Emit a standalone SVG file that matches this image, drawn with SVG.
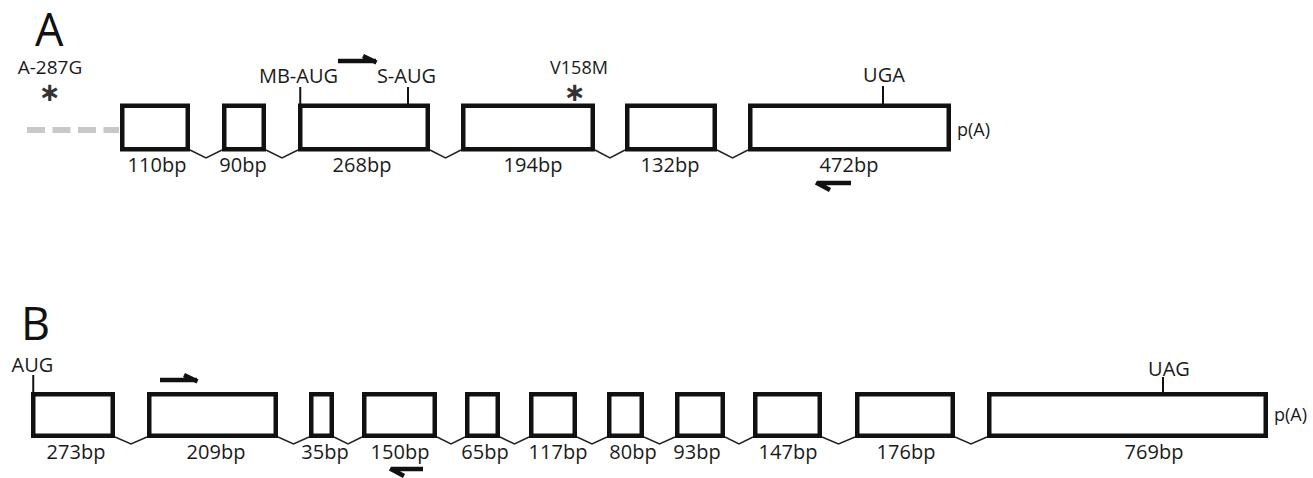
<svg xmlns="http://www.w3.org/2000/svg" width="1313" height="478" viewBox="0 0 1313 478">
<style>
.ex{fill:#fff;stroke:#111;stroke-width:4.5}
.tk{stroke:#111;stroke-width:2;fill:none}
.in{stroke:#222;stroke-width:1.5;fill:none}
.pr{stroke:#111;stroke-width:4.5;fill:none;stroke-linecap:butt}
.bp{font-family:"Open Sans",sans-serif;font-size:20px;fill:#1a1a1a;text-anchor:middle}
.lb{font-family:"Open Sans",sans-serif;fill:#1a1a1a}
.big{font-family:"Open Sans",sans-serif;font-size:45px;fill:#111}
.ast{font-family:"DejaVu Sans",sans-serif;font-size:26px;font-weight:bold;fill:#333;text-anchor:middle}
</style>
<rect width="1313" height="478" fill="#fff"/>
<text class="big" x="35" y="46">A</text>
<text class="big" x="21" y="340">B</text>
<g id="connectors">
<line x1="27" y1="130" x2="119" y2="130" stroke="#c8c8c8" stroke-width="6" stroke-dasharray="18 7.5"/>
<polyline class="in" points="190,150 206,158 222,150"/>
<polyline class="in" points="266,150 282,158 298,150"/>
<polyline class="in" points="430,150 445.5,158 461,150"/>
<polyline class="in" points="595,150 610,158 625,150"/>
<polyline class="in" points="717,150 732.5,158 748,150"/>
<polyline class="in" points="115,437 131,444 147,437"/>
<polyline class="in" points="278,437 293.5,444 309,437"/>
<polyline class="in" points="334,437 348,444 362,437"/>
<polyline class="in" points="437,437 451,444 465,437"/>
<polyline class="in" points="500,437 514.5,444 529,437"/>
<polyline class="in" points="577,437 592,444 607,437"/>
<polyline class="in" points="644,437 659.5,444 675,437"/>
<polyline class="in" points="725,437 739,444 753,437"/>
<polyline class="in" points="822,437 838.5,444 855,437"/>
<polyline class="in" points="955,437 971,444 987,437"/>
<path class="pr" d="M338,61 H376 M376.5,62.5 L363,56"/>
<path class="pr" d="M818,183 H851 M816,182.5 L830,190"/>
<path class="pr" d="M160,380 H197 M197.5,381.5 L184,375"/>
<path class="pr" d="M392,469 H423 M390,468.5 L404,476"/>
</g>
<g id="promoterA">
<text class="lb" x="50" y="74" style="font-size:19px;text-anchor:middle">A-287G</text>
<text class="ast" x="50" y="101">∗</text>
</g>
<g id="exonA1"><rect class="ex" x="122.25" y="105.75" width="65.5" height="43.5"/><text class="bp" x="157" y="172">110bp</text></g>
<g id="exonA2"><rect class="ex" x="224.25" y="105.75" width="39.5" height="43.5"/><text class="bp" x="243" y="172">90bp</text></g>
<g id="exonA3"><rect class="ex" x="300.25" y="105.75" width="127.5" height="43.5"/><text class="bp" x="362" y="172">268bp</text>
<line class="tk" x1="300.25" y1="87" x2="300.25" y2="104"/><line class="tk" x1="408" y1="87" x2="408" y2="104"/>
<text class="lb" x="298.5" y="83" style="font-size:20px;text-anchor:middle">MB-AUG</text><text class="lb" x="406.5" y="83" style="font-size:20px;text-anchor:middle">S-AUG</text></g>
<g id="exonA4"><rect class="ex" x="463.25" y="105.75" width="129.5" height="43.5"/><text class="bp" x="533" y="172">194bp</text>
<text class="lb" x="579" y="74" style="font-size:18px;text-anchor:middle">V158M</text><text class="ast" x="575" y="101">∗</text></g>
<g id="exonA5"><rect class="ex" x="627.25" y="105.75" width="87.5" height="43.5"/><text class="bp" x="670" y="172">132bp</text></g>
<g id="exonA6"><rect class="ex" x="750.25" y="105.75" width="198.5" height="43.5"/><text class="bp" x="849" y="172">472bp</text>
<line class="tk" x1="883" y1="86" x2="883" y2="104"/><text class="lb" x="884" y="82" style="font-size:20px;text-anchor:middle">UGA</text>
<text class="lb" x="957" y="136" style="font-size:18px">p(A)</text></g>
<g id="exonB1"><rect class="ex" x="33.25" y="394.25" width="79.5" height="41.5"/><text class="bp" x="76" y="459">273bp</text>
<line class="tk" x1="33.25" y1="375" x2="33.25" y2="393"/><text class="lb" x="32.5" y="372" style="font-size:20px;text-anchor:middle">AUG</text></g>
<g id="exonB2"><rect class="ex" x="149.25" y="394.25" width="126.5" height="41.5"/><text class="bp" x="216" y="459">209bp</text></g>
<g id="exonB3"><rect class="ex" x="311.25" y="394.25" width="20.5" height="41.5"/><text class="bp" x="325" y="459">35bp</text></g>
<g id="exonB4"><rect class="ex" x="364.25" y="394.25" width="70.5" height="41.5"/><text class="bp" x="400" y="459">150bp</text></g>
<g id="exonB5"><rect class="ex" x="467.25" y="394.25" width="30.5" height="41.5"/><text class="bp" x="485" y="459">65bp</text></g>
<g id="exonB6"><rect class="ex" x="531.25" y="394.25" width="43.5" height="41.5"/><text class="bp" x="558" y="459">117bp</text></g>
<g id="exonB7"><rect class="ex" x="609.25" y="394.25" width="32.5" height="41.5"/><text class="bp" x="633" y="459">80bp</text></g>
<g id="exonB8"><rect class="ex" x="677.25" y="394.25" width="45.5" height="41.5"/><text class="bp" x="697" y="459">93bp</text></g>
<g id="exonB9"><rect class="ex" x="755.25" y="394.25" width="64.5" height="41.5"/><text class="bp" x="788" y="459">147bp</text></g>
<g id="exonB10"><rect class="ex" x="857.25" y="394.25" width="95.5" height="41.5"/><text class="bp" x="906" y="459">176bp</text></g>
<g id="exonB11"><rect class="ex" x="989.25" y="394.25" width="276.5" height="41.5"/><text class="bp" x="1154" y="459">769bp</text>
<line class="tk" x1="1163" y1="377" x2="1163" y2="393"/><text class="lb" x="1169" y="376" style="font-size:20px;text-anchor:middle">UAG</text>
<text class="lb" x="1274" y="421" style="font-size:18px">p(A)</text></g>
</svg>
